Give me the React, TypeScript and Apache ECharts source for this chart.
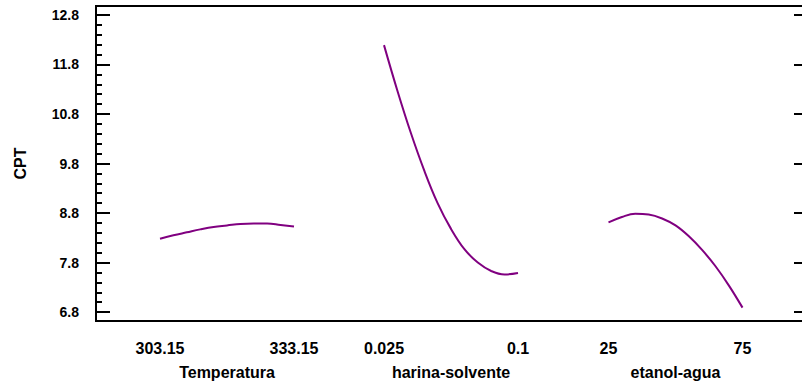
import React, { useEffect, useRef } from "react";
import * as echarts from "echarts";

// Y axis (CPT)
const yMin = 6.62;
const yMax = 12.98;
const yMajor = [6.8, 7.8, 8.8, 9.8, 10.8, 11.8, 12.8];
const yMinor = [
  7.0, 7.2, 7.4, 7.6, 8.0, 8.2, 8.4, 8.6, 9.0, 9.2, 9.4, 9.6,
  10.0, 10.2, 10.4, 10.6, 11.0, 11.2, 11.4, 11.6, 12.0, 12.2, 12.4, 12.6,
];

// Factor: Temperatura
const tempName = "Temperatura";
const tempTicks = [303.15, 333.15];
const tempTickLabels = ["303.15", "333.15"];
const tempX = [303.15, 306.15, 309.15, 312.15, 315.15, 318.15, 321.15, 324.15, 327.15, 330.15, 333.15];
const tempY = [8.28, 8.35, 8.41, 8.47, 8.52, 8.55, 8.58, 8.59, 8.59, 8.56, 8.53];

// Factor: harina-solvente
const harinaName = "harina-solvente";
const harinaTicks = [0.025, 0.1];
const harinaTickLabels = ["0.025", "0.1"];
const harinaX = [0.025, 0.0325, 0.04, 0.0475, 0.055, 0.0625, 0.07, 0.0775, 0.085, 0.0925, 0.1];
const harinaY = [12.19, 11.27, 10.42, 9.66, 9.0, 8.48, 8.07, 7.8, 7.63, 7.56, 7.59];

// Factor: etanol-agua
const etanolName = "etanol-agua";
const etanolTicks = [25, 75];
const etanolTickLabels = ["25", "75"];
const etanolX = [25, 30, 35, 40, 45, 50, 55, 60, 65, 70, 75];
const etanolY = [8.61, 8.72, 8.785, 8.77, 8.69, 8.55, 8.33, 8.05, 7.72, 7.33, 6.89];

const FONT = "'Liberation Sans', Arial, sans-serif";
const LINE_COLOR = "#800080";

const factors = [
  { name: tempName, ticks: tempTicks, labels: tempTickLabels, x: tempX, y: tempY, left: 160 },
  { name: harinaName, ticks: harinaTicks, labels: harinaTickLabels, x: harinaX, y: harinaY, left: 384 },
  { name: etanolName, ticks: etanolTicks, labels: etanolTickLabels, x: etanolX, y: etanolY, left: 608.5 },
];

function tickAxis(position: string, values: number[], length: number, withLabels: boolean, extra: any = {}) {
  return {
    type: "value",
    gridIndex: 0,
    position,
    min: yMin,
    max: yMax,
    axisLine: { show: false },
    splitLine: { show: false },
    axisTick: {
      show: true,
      inside: true,
      length,
      customValues: values,
      lineStyle: { color: "#000", width: 2 },
    },
    axisLabel: {
      show: true,
      customValues: values,
      formatter: (v: number) => (withLabels ? v.toFixed(1) : ""),
      margin: 17,
      color: "#000",
      fontFamily: FONT,
      fontWeight: "bold",
      fontSize: 14,
    },
    ...extra,
  };
}

export default function App() {
  const ref = useRef<HTMLDivElement>(null);

  useEffect(() => {
    if (!ref.current) return;
    const chart = echarts.init(ref.current, undefined, { renderer: "svg" });

    const top = 6;
    const bottom = 67;

    const grids: any[] = [
      {
        left: 96,
        top,
        right: -6,
        bottom,
        show: true,
        borderColor: "#000",
        borderWidth: 2,
        backgroundColor: "transparent",
        containLabel: false,
        outerBoundsMode: "none",
      },
    ];
    const xAxes: any[] = [{ type: "value", gridIndex: 0, show: false, min: 0, max: 1 }];
    const yAxes: any[] = [
      tickAxis("left", yMajor, 14, true, {
        name: "CPT",
        nameLocation: "middle",
        nameGap: 68,
        nameTextStyle: { color: "#000", fontFamily: FONT, fontWeight: "bold", fontSize: 16 },
      }),
      tickAxis("left", yMinor, 6, false),
      tickAxis("right", yMajor, 14, false),
      tickAxis("right", yMinor, 6, false),
    ];
    const series: any[] = [];

    factors.forEach((f, i) => {
      const gi = i + 1;
      grids.push({ left: f.left, width: 134, top, bottom, containLabel: false, outerBoundsMode: "none" });
      xAxes.push({
        type: "value",
        gridIndex: gi,
        min: f.ticks[0],
        max: f.ticks[f.ticks.length - 1],
        axisLine: { show: false },
        axisTick: { show: false },
        splitLine: { show: false },
        axisLabel: {
          show: true,
          customValues: f.ticks,
          formatter: (v: number) => {
            const k = f.ticks.findIndex((t) => Math.abs(t - v) < 1e-9);
            return k >= 0 ? f.labels[k] : "";
          },
          margin: 19,
          color: "#000",
          fontFamily: FONT,
          fontWeight: "bold",
          fontSize: 16,
        },
        name: f.name,
        nameLocation: "middle",
        nameGap: 43,
        nameTextStyle: { color: "#000", fontFamily: FONT, fontWeight: "bold", fontSize: 16 },
      });
      const yi = yAxes.length;
      yAxes.push({ type: "value", gridIndex: gi, min: yMin, max: yMax, show: false });
      series.push({
        type: "line",
        xAxisIndex: gi,
        yAxisIndex: yi,
        data: f.x.map((xv, k) => [xv, f.y[k]]),
        showSymbol: false,
        smooth: 0.4,
        lineStyle: { color: LINE_COLOR, width: 2 },
        itemStyle: { color: LINE_COLOR },
      });
    });

    chart.setOption({
      animation: false,
      backgroundColor: "#fff",
      grid: grids,
      xAxis: xAxes,
      yAxis: yAxes,
      series,
    });

    return () => chart.dispose();
  }, []);

  return (
    <div
      ref={ref}
      style={{ position: "fixed", left: 0, top: 0, width: 802, height: 388, overflow: "hidden" }}
    />
  );
}
